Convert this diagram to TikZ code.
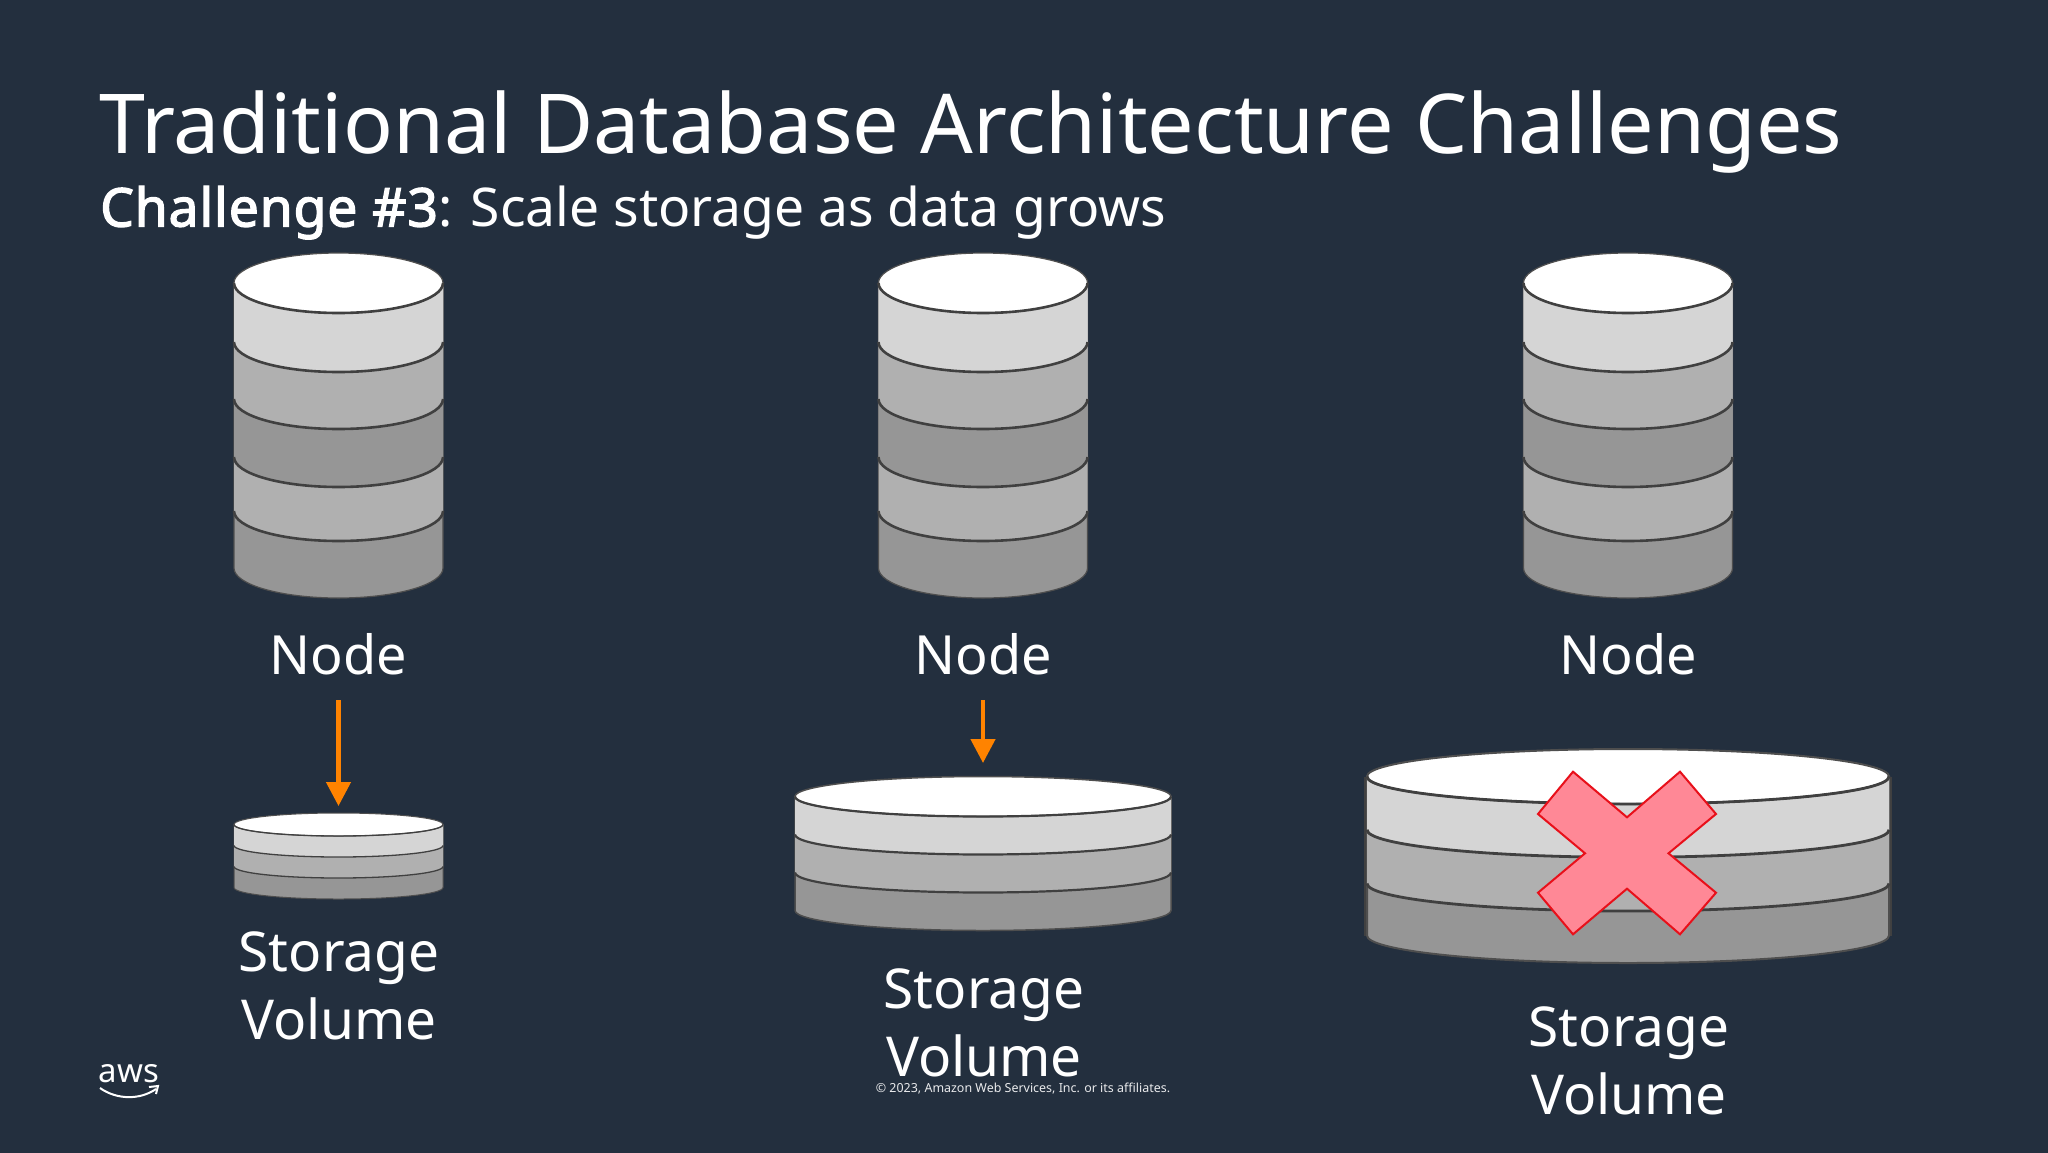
\documentclass[tikz,border=0pt]{standalone}
\usepackage{fontspec}
\setmainfont{Noto Sans}
\newfontfamily\heavyface[FakeBold=2.4,LetterSpace=1.6]{Noto Sans}
\usetikzlibrary{arrows.meta}
\definecolor{bgc}{HTML}{232F3E}
\definecolor{edgec}{HTML}{404040}
\definecolor{ga}{HTML}{D5D5D5}
\definecolor{gb}{HTML}{B0B0B0}
\definecolor{gc}{HTML}{969696}
\definecolor{flow}{HTML}{FF8300}
\definecolor{xfill}{HTML}{FF8896}
\definecolor{xedge}{HTML}{E8101A}
% #1 cx, #2 rx, #3 ry, #4 cy top, #5 line width, #6 list of centre-y/colour from bottom layer to top layer, #7 silhouette width
\newcommand{\lowerarc}[4]{.. controls ({#1-#2},{#4+.5523*#3}) and ({#1-.5523*#2},{#4+#3}) .. ({#1},{#4+#3}) .. controls ({#1+.5523*#2},{#4+#3}) and ({#1+#2},{#4+.5523*#3}) .. ({#1+#2},{#4})}
\newcommand{\diskstack}[7]{%
  \foreach \yc/\col [count=\i] in {#6}{%
    \ifnum\i=1
      \draw[edgec!88!gb,line width=#7 pt,fill=\col] ({#1-#2},{#4}) -- ({#1-#2},\yc) \lowerarc{#1}{#2}{#3}{\yc} -- ({#1+#2},{#4}) -- cycle;
    \else
      \fill[\col] ({#1-#2},{#4}) -- ({#1-#2},\yc) \lowerarc{#1}{#2}{#3}{\yc} -- ({#1+#2},{#4}) -- cycle;
      \draw[edgec,line width=#5 pt] ({#1-#2},\yc) \lowerarc{#1}{#2}{#3}{\yc};
    \fi
  }
  \fill[white] ({#1},{#4}) ellipse[x radius=#2,y radius=#3];
  \draw[edgec!88!gb,line width=#7 pt] ({#1},{#4}) ellipse[x radius=#2,y radius=#3];
  \draw[edgec,line width=#5 pt] ({#1-#2},{#4}) \lowerarc{#1}{#2}{#3}{#4};
}
\tikzset{
  title/.style={anchor=base west,inner sep=0pt,text=white,font=\fontsize{82.6}{82.6}\selectfont},
  subtitle/.style={anchor=base west,inner sep=0pt,text=white,font=\fontsize{53.4}{53.4}\selectfont},
  nodelabel/.style={anchor=base,inner sep=0pt,text=white,text depth=26pt,font=\fontsize{54}{54}\selectfont},
  vollabel/.style={align=center,inner sep=0pt,text=white,font=\fontsize{55}{68}\selectfont},
  feed/.style={draw=flow,line width=4.5pt,-{Triangle[length=24pt,width=24pt,fill=flow]}},
  crossmark/.style={draw=xedge,fill=xfill,line width=2pt,line join=miter},
  legal/.style={inner sep=0pt,text=white!90!bgc,font=\fontsize{12.45}{12.45}\selectfont},
  logotext/.style={inner sep=0pt,anchor=base,text=white,font=\fontsize{33}{33}\selectfont},
  sidebar/.style={edgec,line width=3.5pt},
}
\begin{document}
\begin{tikzpicture}[x=1pt,y=-1pt]
\useasboundingbox (0,0) rectangle (2048,1152);
\fill[bgc] (-5,-5) rectangle (2053,1157);

\node[title] (ttl) at (99,153) {Traditional Database Architecture Challenges};
\node[subtitle] (sub) at (100,226.5) {{\heavyface Challenge \#3}: Scale storage as data grows};

% database cylinders
\diskstack{338.5}{104.5}{30}{283}{2.6}{568/gc,511/gb,457/gc,399/gb,342/ga}{1.2}
\diskstack{983}{104.5}{30}{283}{2.6}{568/gc,511/gb,457/gc,399/gb,342/ga}{1.2}
\diskstack{1628}{104.5}{30}{283}{2.6}{568/gc,511/gb,457/gc,399/gb,342/ga}{1.2}

% storage volumes
\diskstack{338.5}{104.5}{11.5}{824.5}{1.3}{887.5/gc,866.5/gb,845.5/ga}{1}
\diskstack{983}{188}{20}{796.5}{2.2}{910.5/gc,872.5/gb,834.5/ga}{1.5}
\draw[sidebar] (1365.5,776.5) -- (1365.5,935.5);
\draw[sidebar] (1890.5,776.5) -- (1890.5,935.5);
\diskstack{1628}{261}{27.5}{776.5}{2.8}{935.5/gc,883.5/gb,829.8/ga}{2}

% labels
\node[nodelabel] (n1) at (338.5,674) {Node};
\node[nodelabel] (n2) at (983,674) {Node};
\node[nodelabel] (n3) at (1628,674) {Node};
\node[vollabel] (v1) at (339,986) {Storage\\Volume};
\node[vollabel] (v2) at (984,1023) {Storage\\Volume};
\node[vollabel] (v3) at (1629,1061) {Storage\\Volume};

% connectors
\coordinate (tip1) at (338.5,806);
\coordinate (tip2) at (983,763);
\draw[feed] (n1.south) -- (tip1);
\draw[feed] (n2.south) -- (tip2);

% cross
\draw[crossmark] (1573,771.7) -- (1627,817.3) -- (1680,771.7) -- (1716,814) -- (1668.5,853.3) -- (1716,892.7) -- (1680,934.3) -- (1627,888.7) -- (1573,934.3) -- (1538,892.7) -- (1585,853.3) -- (1538,814) -- cycle;

% footer
\node[legal] (copy) at (1023,1088.5) {© 2023, Amazon Web Services, Inc. or its affiliates.};
\node[logotext] (aws) at (129,1082) {aws};
\coordinate (smA) at (100,1088);
\coordinate (smB) at (156,1089);
\draw[white,line width=2pt] (smA) .. controls (117,1100) and (140,1100) .. (smB);
\draw[white,line width=2pt] (149,1087) -- (158,1086) -- (156,1094);
\end{tikzpicture}
\end{document}
